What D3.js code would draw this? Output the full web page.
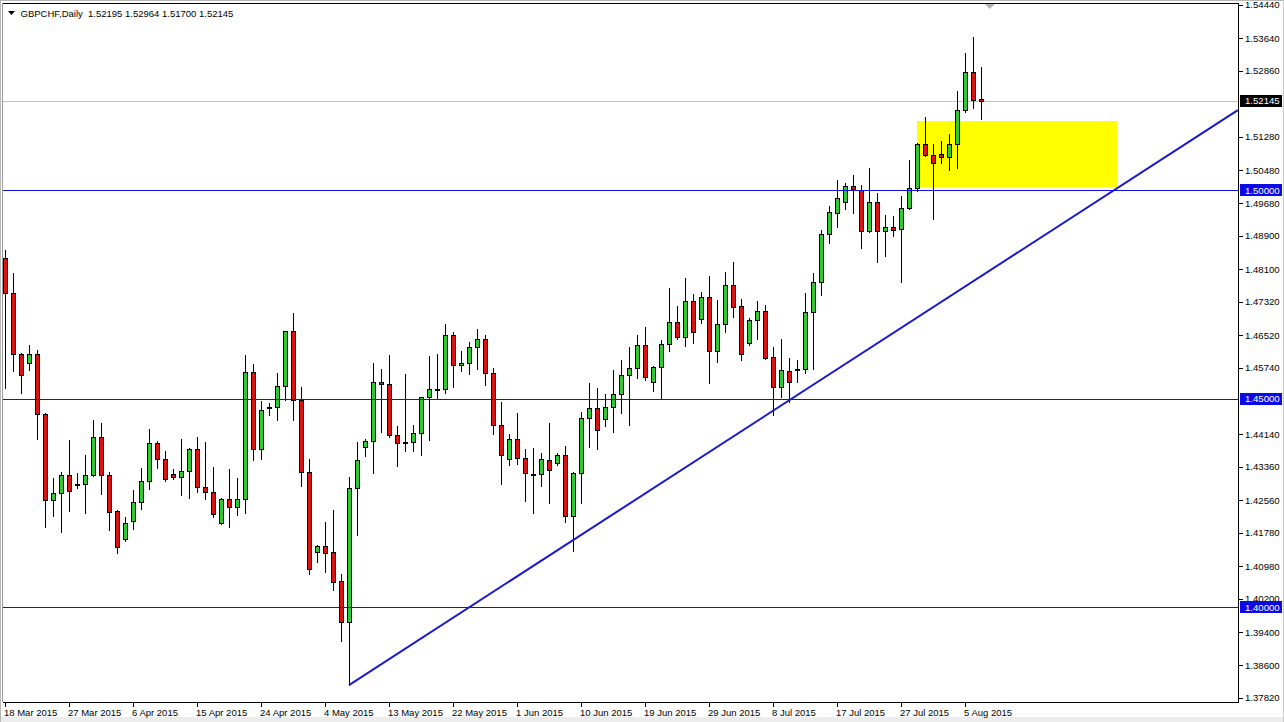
<!DOCTYPE html>
<html><head><meta charset="utf-8">
<script src="https://cdn.jsdelivr.net/npm/d3@7"></script>
<style>
body{margin:0;background:#fff}
svg{display:block}
text{font-family:"Liberation Sans",Arial,sans-serif}
</style>
</head><body>
<svg id="chart" width="1284" height="722"></svg>
<script>
// ---------------- DATA ----------------
const symbolTitle = "GBPCHF,Daily";
const lastQuote = ["1.52195", "1.52964", "1.51700", "1.52145"];

const opens = [1.4837,1.4753,1.4607,1.4585,1.4607,1.4463,1.4257,1.4274,1.4317,1.4294,
1.4295,1.4317,1.4408,1.4317,1.4230,1.4163,1.4206,1.4252,1.4302,1.4394,
1.4355,1.4319,1.4312,1.4326,1.4379,1.4288,1.4276,1.4202,1.4259,1.4240,
1.4259,1.4564,1.4379,1.4479,1.4481,1.4530,1.4662,1.4497,1.4324,1.4132,
1.4147,1.4132,1.4062,1.3964,1.4286,1.4384,1.4398,1.4540,1.4535,1.4413,
1.4394,1.4396,1.4418,1.4504,1.4522,1.4523,1.4653,1.4581,1.4585,1.4624,
1.4643,1.4561,1.4437,1.4355,1.4403,1.4358,1.4320,1.4319,1.4353,1.4346,
1.4365,1.4218,1.4322,1.4454,1.4478,1.4451,1.4480,1.4511,1.4557,1.4573,
1.4629,1.4540,1.4576,1.4631,1.4684,1.4648,1.4734,1.4691,1.4744,1.4614,
1.4679,1.4772,1.4722,1.4633,1.4689,1.4710,1.4600,1.4528,1.4566,1.4570,
1.4572,1.4708,1.4780,1.4895,1.4946,1.4972,1.5010,1.5001,1.4902,1.4972,
1.4902,1.4912,1.4906,1.4957,1.5005,1.5111,1.5084,1.5087,1.5079,1.5111,
1.5192,1.5283,1.52195];
const highs = [1.4856,1.4801,1.4609,1.4629,1.4617,1.4465,1.4310,1.4324,1.4401,1.4322,
1.4365,1.4449,1.4442,1.4324,1.4232,1.4216,1.4281,1.4334,1.4427,1.4398,
1.4374,1.4331,1.4403,1.4381,1.4408,1.4396,1.4336,1.4261,1.4331,1.4310,
1.4605,1.4583,1.4494,1.4489,1.4561,1.4663,1.4705,1.4528,1.4355,1.4148,
1.4204,1.4233,1.4079,1.4312,1.4396,1.4403,1.4585,1.4571,1.4605,1.4434,
1.4559,1.4437,1.4505,1.4602,1.4607,1.4679,1.4660,1.4614,1.4636,1.4667,
1.4653,1.4573,1.4492,1.4415,1.4466,1.4379,1.4382,1.4370,1.4442,1.4370,
1.4386,1.4324,1.4468,1.4537,1.4525,1.4511,1.4569,1.4593,1.4624,1.4653,
1.4672,1.4578,1.4641,1.4765,1.4722,1.4789,1.4751,1.4756,1.4794,1.4737,
1.4804,1.4828,1.4739,1.4693,1.4734,1.4725,1.4624,1.4643,1.4597,1.4593,
1.4753,1.4801,1.4904,1.4962,1.5024,1.5017,1.5036,1.5012,1.5053,1.4993,
1.4940,1.4938,1.4986,1.5072,1.5114,1.5175,1.5111,1.5118,1.5135,1.5238,
1.5329,1.5367,1.52964];
const lows = [1.4525,1.4566,1.4513,1.4569,1.4403,1.4192,1.4218,1.4180,1.4230,1.4286,
1.4226,1.4315,1.4271,1.4185,1.4130,1.4159,1.4187,1.4235,1.4283,1.4334,
1.4302,1.4307,1.4269,1.4262,1.4276,1.4259,1.4216,1.4199,1.4192,1.4221,
1.4226,1.4353,1.4355,1.4461,1.4449,1.4497,1.4449,1.4290,1.4079,1.4108,
1.4084,1.4041,1.3919,1.3813,1.4173,1.4362,1.4322,1.4420,1.4408,1.4338,
1.4374,1.4374,1.4365,1.4401,1.4501,1.4513,1.4528,1.4566,1.4559,1.4571,
1.4533,1.4415,1.4295,1.4341,1.4343,1.4254,1.4226,1.4290,1.4250,1.4341,
1.4204,1.4135,1.4250,1.4384,1.4379,1.4434,1.4420,1.4466,1.4437,1.4549,
1.4545,1.4518,1.4499,1.4614,1.4643,1.4626,1.4633,1.4681,1.4537,1.4588,
1.4660,1.4696,1.4593,1.4629,1.4643,1.4595,1.4461,1.4504,1.4492,1.4540,
1.4561,1.4571,1.4749,1.4873,1.4912,1.4955,1.4945,1.4861,1.4900,1.4828,
1.4842,1.4890,1.4780,1.4955,1.4998,1.5082,1.4931,1.5065,1.5048,1.5053,
1.5187,1.5197,1.51700];
const closes = [1.4753,1.4607,1.4557,1.4607,1.4463,1.4257,1.4274,1.4317,1.4278,1.4296,
1.4317,1.4408,1.4317,1.4228,1.4144,1.4202,1.4252,1.4302,1.4394,1.4355,
1.4307,1.4312,1.4326,1.4379,1.4288,1.4276,1.4223,1.4259,1.4240,1.4259,
1.4564,1.4379,1.4473,1.4481,1.4530,1.4662,1.4497,1.4324,1.4091,1.4147,
1.4130,1.4060,1.3964,1.4286,1.4353,1.4398,1.4540,1.4535,1.4413,1.4394,
1.4395,1.4418,1.4504,1.4523,1.4524,1.4653,1.4581,1.4585,1.4624,1.4643,
1.4561,1.4437,1.4365,1.4403,1.4358,1.4322,1.4319,1.4355,1.4329,1.4365,
1.4218,1.4322,1.4454,1.4478,1.4425,1.4480,1.4511,1.4557,1.4573,1.4629,
1.4552,1.4576,1.4631,1.4684,1.4648,1.4734,1.4660,1.4744,1.4614,1.4679,
1.4772,1.4720,1.4607,1.4689,1.4710,1.4597,1.4528,1.4569,1.4540,1.4572,
1.4708,1.4780,1.4895,1.4948,1.4981,1.5010,1.5003,1.4902,1.4972,1.4902,
1.4912,1.4905,1.4957,1.5005,1.5111,1.5084,1.5065,1.5079,1.5111,1.5192,
1.5283,1.5216,1.52145];

const dateTickLabels = ["18 Mar 2015","27 Mar 2015","6 Apr 2015","15 Apr 2015","24 Apr 2015",
  "4 May 2015","13 May 2015","22 May 2015","1 Jun 2015","10 Jun 2015","19 Jun 2015",
  "29 Jun 2015","8 Jul 2015","17 Jul 2015","27 Jul 2015","5 Aug 2015"];
const dateTickBars = [0,8,16,24,32,40,48,56,64,72,80,88,96,104,112,120];

const priceTicks = [1.54440,1.53640,1.52860,1.51280,1.50480,1.49680,1.48900,1.48100,1.47320,
  1.46520,1.45740,1.44140,1.43360,1.42560,1.41780,1.40980,1.40200,1.39400,1.38600,1.37820];
const levelPrices = [1.50000, 1.45000, 1.40000];
const bidPrice = 1.52145;
const trendBars = [43, 154.1];
const trendPrices = [1.3813, 1.5192];
const zoneBars = [114, 139];
const zonePrices = [1.5166, 1.5007];
const shiftMarkerBar = 123.1;

// ---------------- CHART ----------------
const svg = d3.select("#chart");
const P = {left: 3, right: 1238, top: 3, bottom: 702};
const x = d3.scaleLinear().domain([0, 122]).range([5, 981]);
const y = d3.scaleLinear().domain([1.3782, 1.5444]).range([698, 5]);
const crisp = v => Math.round(v) + 0.5;

// window frame
svg.append("rect").attr("x",0).attr("y",0).attr("width",1284).attr("height",722).attr("fill","#fff");
svg.append("rect").attr("x",0).attr("y",717).attr("width",1284).attr("height",5).attr("fill","#ececec");
svg.append("line").attr("x1",0.5).attr("x2",0.5).attr("y1",0).attr("y2",722).attr("stroke","#b8b8b8");
svg.append("line").attr("x1",0).attr("x2",1284).attr("y1",0.5).attr("y2",0.5).attr("stroke","#b8b8b8");
svg.append("line").attr("x1",1283.5).attr("x2",1283.5).attr("y1",0).attr("y2",722).attr("stroke","#c8c8c8");
svg.append("line").attr("x1",2.5).attr("x2",2.5).attr("y1",3).attr("y2",P.bottom).attr("stroke","#9a9a9a");

svg.append("clipPath").attr("id","clip").append("rect")
  .attr("x",P.left).attr("y",P.top).attr("width",P.right-P.left).attr("height",P.bottom-P.top);
const g = svg.append("g").attr("clip-path","url(#clip)");

// support zone
g.append("rect")
  .attr("x", Math.round(x(zoneBars[0])))
  .attr("y", Math.round(y(zonePrices[0])))
  .attr("width", Math.round(x(zoneBars[1]) - x(zoneBars[0])))
  .attr("height", Math.round(y(zonePrices[1]) - y(zonePrices[0])))
  .attr("fill", "#ffff00");

// bid line
g.append("line").attr("x1",P.left).attr("x2",P.right)
  .attr("y1",crisp(y(bidPrice))).attr("y2",crisp(y(bidPrice)))
  .attr("stroke","#c0c0c0");

// candles
const idx = d3.range(opens.length);
g.selectAll("line.wick").data(idx).join("line").attr("class","wick")
  .attr("x1", i => crisp(x(i))).attr("x2", i => crisp(x(i)))
  .attr("y1", i => Math.round(y(highs[i]))).attr("y2", i => Math.round(y(lows[i])) + 1)
  .attr("stroke", "#000").attr("stroke-width", 1);

g.selectAll("rect.body").data(idx).join("rect").attr("class","body")
  .attr("x", i => Math.round(x(i)) - 1.5)
  .attr("width", 4)
  .attr("y", i => Math.round(y(Math.max(opens[i], closes[i]))) + 0.5)
  .attr("height", i => Math.max(1, Math.round(y(Math.min(opens[i], closes[i]))) - Math.round(y(Math.max(opens[i], closes[i])))))
  .attr("fill", i => closes[i] >= opens[i] ? "#2ecc2e" : "#dd1313")
  .attr("stroke", "#000").attr("stroke-width", 1);

// horizontal levels
g.selectAll("line.level").data(levelPrices).join("line").attr("class","level")
  .attr("x1", P.left).attr("x2", P.right)
  .attr("y1", d => crisp(y(d))).attr("y2", d => crisp(y(d)))
  .attr("stroke", "#1010d8").attr("stroke-width", 1.2);

// trend line
g.append("line")
  .attr("x1", x(trendBars[0])).attr("y1", y(trendPrices[0]))
  .attr("x2", x(trendBars[1])).attr("y2", y(trendPrices[1]))
  .attr("stroke", "#1a1acd").attr("stroke-width", 2);

// plot frame
svg.append("line").attr("x1",P.left).attr("x2",P.right+1).attr("y1",3.5).attr("y2",3.5).attr("stroke","#000");
svg.append("line").attr("x1",P.left).attr("x2",P.right+1).attr("y1",P.bottom+0.5).attr("y2",P.bottom+0.5).attr("stroke","#000");
svg.append("line").attr("x1",P.right+0.5).attr("x2",P.right+0.5).attr("y1",3).attr("y2",P.bottom+1).attr("stroke","#000");

// shift marker
const sx = x(shiftMarkerBar);
svg.append("path").attr("d", `M${sx-5},4 L${sx+5},4 L${sx},9 Z`).attr("fill","#b4b4b4");

// price axis
const yAx = svg.append("g");
yAx.selectAll("line").data(priceTicks).join("line")
  .attr("x1", P.right+1).attr("x2", P.right+5)
  .attr("y1", d => crisp(y(d))).attr("y2", d => crisp(y(d)))
  .attr("stroke", "#000");
yAx.selectAll("text").data(priceTicks).join("text")
  .attr("x", 1245).attr("y", d => y(d)).attr("dy", "0.36em")
  .attr("font-size", 9.6).attr("fill", "#000")
  .text(d => d.toFixed(5));

// highlighted level labels
const tags = levelPrices.map(p => ({p, bg:"#0a0ae6"})).concat([{p: bidPrice, bg:"#000"}]);
const tg = svg.append("g").selectAll("g").data(tags).join("g");
tg.append("rect").attr("x", 1240).attr("width", 42)
  .attr("y", d => Math.round(y(d.p)) - 6).attr("height", 12)
  .attr("fill", d => d.bg);
tg.append("text").attr("x", 1245).attr("y", d => y(d.p)).attr("dy","0.36em")
  .attr("font-size", 9.6).attr("fill", "#fff").text(d => d.p.toFixed(5));

// date axis
const xAx = svg.append("g");
xAx.selectAll("line").data(dateTickBars).join("line")
  .attr("x1", b => crisp(x(b))).attr("x2", b => crisp(x(b)))
  .attr("y1", P.bottom+1).attr("y2", P.bottom+5).attr("stroke","#000");
xAx.selectAll("text").data(dateTickBars).join("text")
  .attr("x", b => Math.round(x(b)) - 1).attr("y", 716)
  .attr("font-size", 9.5).attr("fill","#000")
  .text((b,i) => dateTickLabels[i]);

// header
svg.append("path").attr("d","M8,11 L15,11 L11.5,15 Z").attr("fill","#000");
svg.append("text").attr("x", 20.5).attr("y", 16.5).attr("font-size", 9.5).attr("fill","#000")
  .attr("xml:space","preserve")
  .text(symbolTitle + "  " + lastQuote.join(" "));
</script>
</body></html>
